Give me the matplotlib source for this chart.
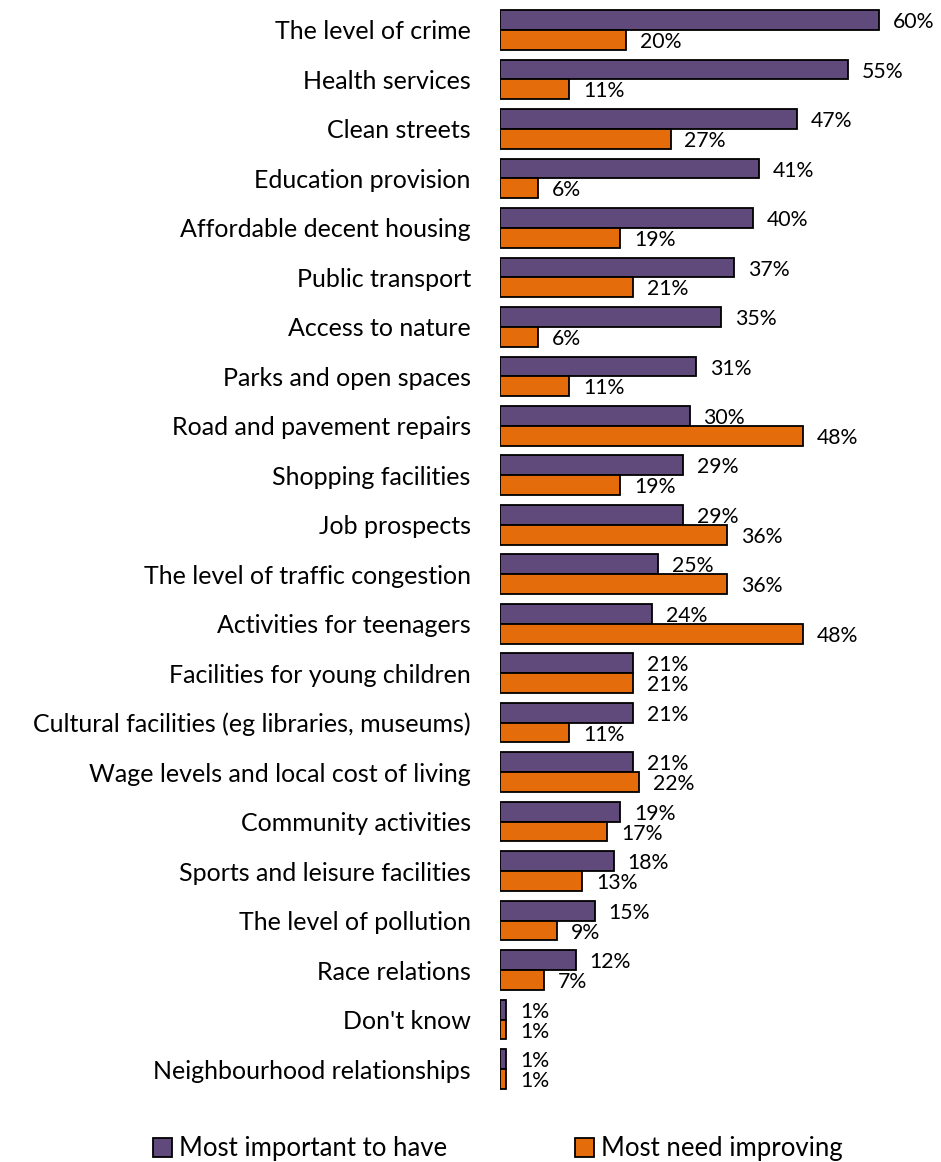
import matplotlib
matplotlib.use("Agg")
import matplotlib.pyplot as plt
from matplotlib.patches import Patch
import numpy as np

categories = [
    "The level of crime",
    "Health services",
    "Clean streets",
    "Education provision",
    "Affordable decent housing",
    "Public transport",
    "Access to nature",
    "Parks and open spaces",
    "Road and pavement repairs",
    "Shopping facilities",
    "Job prospects",
    "The level of traffic congestion",
    "Activities for teenagers",
    "Facilities for young children",
    "Cultural facilities (eg libraries, museums)",
    "Wage levels and local cost of living",
    "Community activities",
    "Sports and leisure facilities",
    "The level of pollution",
    "Race relations",
    "Don't know",
    "Neighbourhood relationships",
]
most_important = [60, 55, 47, 41, 40, 37, 35, 31, 30, 29, 29, 25, 24, 21, 21, 21, 19, 18, 15, 12, 1, 1]
need_improving = [20, 11, 27, 6, 19, 21, 6, 11, 48, 19, 36, 36, 48, 21, 11, 22, 17, 13, 9, 7, 1, 1]
series_names = ["Most important to have", "Most need improving"]

purple = "#604A7B"
orange = "#E46C0A"
font = ["Lato", "DejaVu Sans"]

fig = plt.figure(figsize=(9.41, 11.62), dpi=100)
ax = fig.add_axes([0.5313, 0.0587, 0.4701, 0.9368])

y = np.arange(len(categories))
h = 0.4
b1 = ax.barh(y - h / 2, most_important, height=h, color=purple, edgecolor="black", linewidth=1.3)
b2 = ax.barh(y + h / 2, need_improving, height=h, color=orange, edgecolor="black", linewidth=1.3)

for bars, vals in ((b1, most_important), (b2, need_improving)):
    for bar, v in zip(bars, vals):
        ax.annotate(f"{v}%", (bar.get_width(), bar.get_y() + bar.get_height() / 2),
                    xytext=(10, -1.5), textcoords="offset points",
                    ha="left", va="center", fontsize=15.3, family=font, color="black")

ax.set_xlim(0, 70)
ax.set_ylim(len(categories) - 0.5, -0.5)
ax.set_yticks(y)
ax.set_yticklabels(categories, fontsize=18, family=font)
ax.tick_params(axis="y", length=0, pad=21)
ax.set_xticks([])
for s in ax.spines.values():
    s.set_visible(False)

handles = [Patch(facecolor=purple, edgecolor="black", linewidth=1.3),
           Patch(facecolor=orange, edgecolor="black", linewidth=1.3)]
fig.legend(handles, series_names, loc="center", bbox_to_anchor=(0.529, 0.0115),
           ncol=2, frameon=False, prop={"family": font, "size": 18.5},
           handlelength=0.75, handleheight=0.75, handletextpad=0.25, columnspacing=5.0,
           borderpad=0, borderaxespad=0)

fig.savefig("out.png", dpi=100)
